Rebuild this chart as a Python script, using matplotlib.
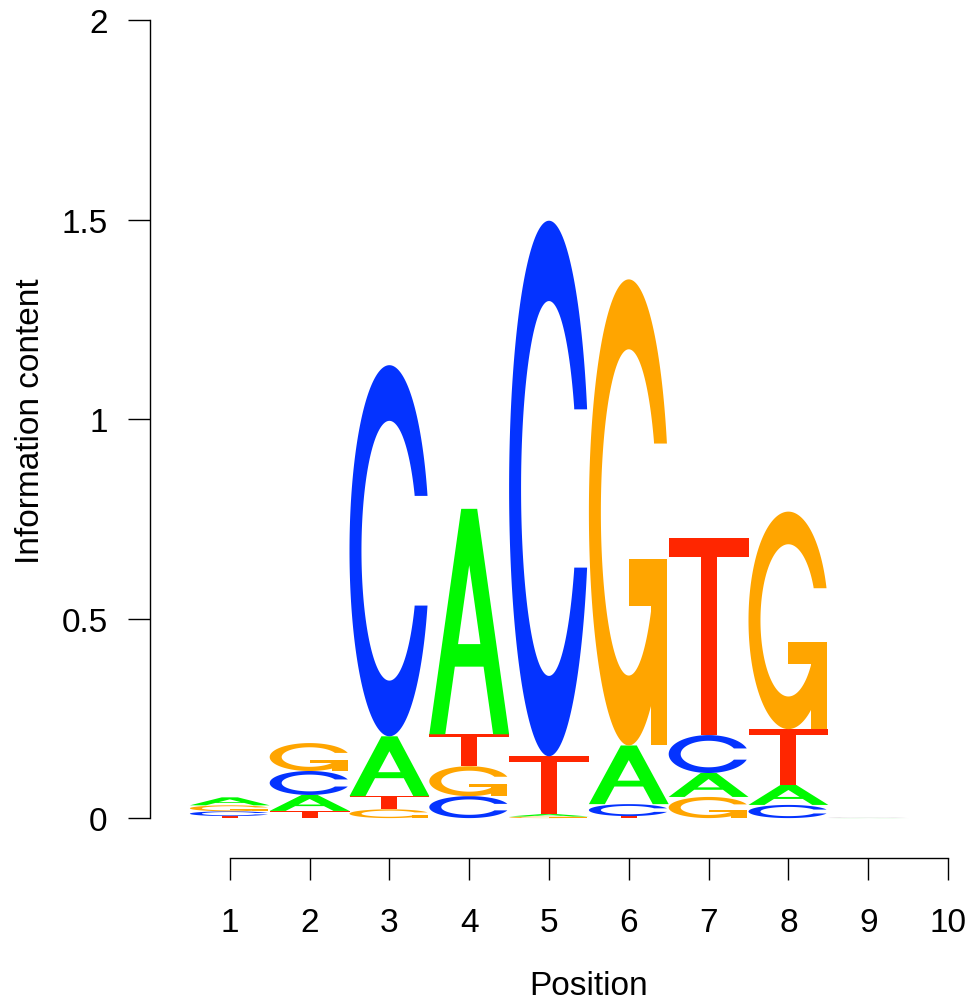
import numpy as np
import matplotlib
matplotlib.use("Agg")
import matplotlib.pyplot as plt
from matplotlib.path import Path
from matplotlib.patches import PathPatch

# ---------------- data (information content in bits per letter) ----------------
positions = [1, 2, 3, 4, 5, 6, 7, 8, 9, 10]
bits_A = [0.020, 0.040, 0.150, 0.565, 0.006, 0.147, 0.060, 0.050, 0.0003, 0.0]
bits_C = [0.012, 0.060, 0.930, 0.055, 1.342, 0.030, 0.095, 0.033, 0.0003, 0.0]
bits_G = [0.015, 0.070, 0.022, 0.075, 0.004, 1.168, 0.053, 0.545, 0.0003, 0.0]
bits_T = [0.005, 0.018, 0.033, 0.080, 0.145, 0.005, 0.495, 0.140, 0.0003, 0.0]
y_ticks = [0, 0.5, 1, 1.5, 2]
y_tick_labels = ["0", "0.5", "1", "1.5", "2"]
x_tick_labels = [str(p) for p in positions]
letter_colors = {"A": "#00F900", "C": "#0433FF", "G": "#FFA500", "T": "#FF2600"}

plt.rcParams["font.family"] = ["Liberation Sans", "DejaVu Sans"]


# ---------------- letter shapes in a unit box (seqLogo style) ----------------
def _c_ring():
    a1 = np.linspace(0.3 + np.pi / 2, np.pi, 100)
    a2 = np.linspace(np.pi, 1.5 * np.pi, 100)
    xl1 = 0.5 + 0.5 * np.sin(a1); yl1 = 0.5 + 0.5 * np.cos(a1)
    xl2 = 0.5 + 0.5 * np.sin(a2); yl2 = 0.5 + 0.5 * np.cos(a2)
    xl = np.concatenate([xl1, xl2]); yl = np.concatenate([yl1, yl2])
    x = np.concatenate([xl, xl[::-1]]); y = np.concatenate([yl, 1 - yl[::-1]])
    xi1 = 0.5 + 0.35 * np.sin(a1); yi1 = 0.5 + 0.35 * np.cos(a1)
    keep = yi1 <= yl1.max()
    xi1 = xi1[keep]; yi1 = yi1[keep].copy(); yi1[0] = yl1.max()
    xi2 = 0.5 + 0.35 * np.sin(a2); yi2 = 0.5 + 0.35 * np.cos(a2)
    xi = np.concatenate([xi1, xi2]); yi = np.concatenate([yi1, yi2])
    x1 = np.concatenate([xi, xi[::-1]]); y1 = np.concatenate([yi, 1 - yi[::-1]])
    x = np.concatenate([x, x1[::-1]]); y = np.concatenate([y, y1[::-1]])
    return [np.column_stack([x, y])], xl1.max()


def letter_polys(ch):
    if ch == "A":
        outer = np.array([[0, 0], [0.4, 1], [0.6, 1], [1, 0], [0.8, 0], [0.68, 0.3],
                          [0.32, 0.3], [0.2, 0]])
        inner = np.array([[0.36, 0.4], [0.64, 0.4], [0.5, 0.75]])
        return [outer, inner]
    if ch == "T":
        return [np.array([[0, 1], [1, 1], [1, 0.9], [0.6, 0.9], [0.6, 0], [0.4, 0],
                          [0.4, 0.9], [0, 0.9]])]
    ring, r1 = _c_ring()
    if ch == "C":
        return ring
    h1 = 0.4
    add = np.array([[r1, h1], [0.5, h1], [0.5, h1 - 0.1], [r1 - 0.2, h1 - 0.1],
                    [r1 - 0.2, 0], [r1, 0]])
    return ring + [add]


def draw_letter(ax, ch, xc, y0, h, w=1.0):
    polys = letter_polys(ch)
    if ch == "A":
        verts = []
        codes = []
        for p in polys:
            pts = np.column_stack([xc - w / 2 + w * p[:, 0], y0 + h * p[:, 1]])
            verts.extend(pts.tolist() + [pts[0].tolist()])
            codes.extend([Path.MOVETO] + [Path.LINETO] * (len(pts) - 1) + [Path.CLOSEPOLY])
        ax.add_patch(PathPatch(Path(verts, codes), facecolor=letter_colors[ch],
                               edgecolor="none", lw=0))
    else:
        for p in polys:
            pts = np.column_stack([xc - w / 2 + w * p[:, 0], y0 + h * p[:, 1]])
            verts = pts.tolist() + [pts[0].tolist()]
            codes = [Path.MOVETO] + [Path.LINETO] * (len(pts) - 1) + [Path.CLOSEPOLY]
            ax.add_patch(PathPatch(Path(verts, codes), facecolor=letter_colors[ch],
                                   edgecolor="none", lw=0))


# ---------------- figure ----------------
W, H = 974, 1004
fig = plt.figure(figsize=(W / 100, H / 100), dpi=100)
ax = fig.add_axes([150 / W, 1 - 859 / H, 798 / W, (859 - 21) / H])
ax.set_xlim(0, 10)
ax.set_ylim(-0.1, 2)

for i, pos in enumerate(positions):
    heights = {"A": bits_A[i], "C": bits_C[i], "G": bits_G[i], "T": bits_T[i]}
    y = 0.0
    for ch in sorted(heights, key=lambda k: heights[k]):
        h = heights[ch]
        if h > 0:
            draw_letter(ax, ch, pos, y, h)
        y += h

for s in ["top", "right"]:
    ax.spines[s].set_visible(False)
ax.spines["left"].set_bounds(0, 2)
ax.spines["bottom"].set_bounds(1, 10)
for s in ["left", "bottom"]:
    ax.spines[s].set_linewidth(1.0)

ax.set_yticks(y_ticks)
ax.set_yticklabels(y_tick_labels)
ax.set_xticks(positions)
ax.set_xticklabels(x_tick_labels)
ax.tick_params(axis="both", length=15.5, width=1.0, labelsize=24, color="black")
ax.tick_params(axis="y", pad=15)
ax.tick_params(axis="x", pad=20)

fig.text(31 / W, 1 - 421 / H, "Information content", rotation=90, ha="center",
         va="center", fontsize=24)
fig.text(589 / W, 1 - 995 / H, "Position", ha="center", va="baseline", fontsize=24)

fig.savefig("out.png", dpi=100)
